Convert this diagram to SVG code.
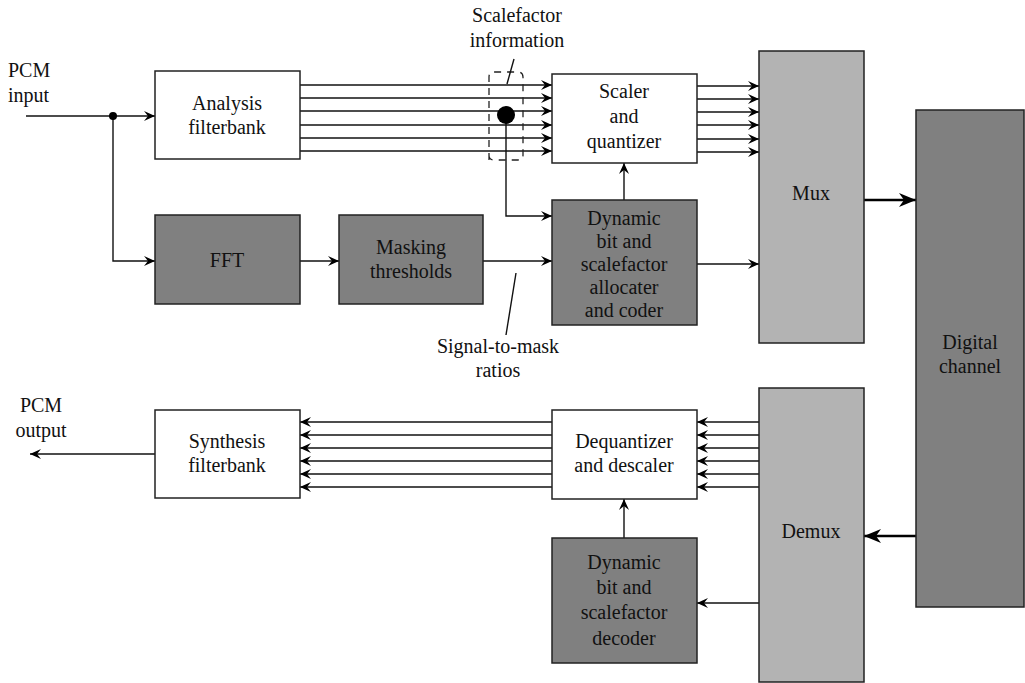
<svg xmlns="http://www.w3.org/2000/svg" width="1025" height="683" viewBox="0 0 1025 683">
<style>
  .box { stroke: #222; stroke-width: 1.5; }
  .white { fill: #fff; }
  .dark { fill: #808080; }
  .light { fill: #b3b3b3; }
  text { font-family: "Liberation Serif", "Times New Roman", serif; font-size: 20px; fill: #111; }
  .c { text-anchor: middle; }
  .ln { stroke: #111; stroke-width: 1.4; fill: none; }
  .arr { marker-end: url(#ah); }
  .thick { stroke: #000; stroke-width: 2.6; fill: none; marker-end: url(#ahb); }
</style>
<defs>
  <marker id="ah" viewBox="-12 -6 13 12" markerWidth="13" markerHeight="12" refX="0" refY="0" orient="auto" markerUnits="userSpaceOnUse">
    <path d="M-11,-5 L0,0 L-11,5 L-7,0 z" fill="#000"/>
  </marker>
  <marker id="ahb" viewBox="-18 -8 19 16" markerWidth="19" markerHeight="16" refX="0" refY="0" orient="auto" markerUnits="userSpaceOnUse">
    <path d="M-17,-7 L0,0 L-17,7 L-12,0 z" fill="#000"/>
  </marker>
</defs>
<rect width="1025" height="683" fill="#fff"/>

<g id="connectors">
  <!-- PCM input -->
  <line class="ln arr" x1="26" y1="116" x2="155" y2="116"/>
  <polyline class="ln arr" points="113,116 113,261 155,261"/>
  <circle cx="113" cy="116" r="4" fill="#000"/>
  <!-- analysis -> scaler -->
  <line class="ln arr" x1="300" y1="85" x2="552" y2="85"/>
  <line class="ln arr" x1="300" y1="98" x2="552" y2="98"/>
  <line class="ln arr" x1="300" y1="111" x2="552" y2="111"/>
  <line class="ln arr" x1="300" y1="125" x2="552" y2="125"/>
  <line class="ln arr" x1="300" y1="138" x2="552" y2="138"/>
  <line class="ln arr" x1="300" y1="151" x2="552" y2="151"/>
  <!-- scalefactor tap -->
  <polyline class="ln arr" points="506,116 506,216 552,216"/>
  <circle cx="506" cy="115" r="9" fill="#000"/>
  <path d="M489,160 L489,77 Q489,72 494,72 L518,72 Q523,72 523,77 L523,155 Q523,160 518,160 L494,160 Q489,160 489,155" fill="none" stroke="#222" stroke-width="1.3" stroke-dasharray="7,6"/>
  <line class="ln" x1="507" y1="84" x2="514" y2="59"/>
  <!-- scaler -> mux -->
  <line class="ln arr" x1="697" y1="86" x2="759" y2="86"/>
  <line class="ln arr" x1="697" y1="99" x2="759" y2="99"/>
  <line class="ln arr" x1="697" y1="112" x2="759" y2="112"/>
  <line class="ln arr" x1="697" y1="125" x2="759" y2="125"/>
  <line class="ln arr" x1="697" y1="139" x2="759" y2="139"/>
  <line class="ln arr" x1="697" y1="152" x2="759" y2="152"/>
  <!-- allocator -> scaler -->
  <line class="ln arr" x1="624" y1="200" x2="624" y2="163"/>
  <!-- FFT -> masking -> allocator -> mux -->
  <line class="ln arr" x1="300" y1="261" x2="339" y2="261"/>
  <line class="ln arr" x1="483" y1="261" x2="552" y2="261"/>
  <line class="ln arr" x1="697" y1="264" x2="759" y2="264"/>
  <line class="ln" x1="516" y1="273" x2="506" y2="335"/>
  <!-- mux -> channel -> demux -->
  <line class="thick" x1="864" y1="200" x2="916" y2="200"/>
  <line class="thick" x1="916" y1="536" x2="864" y2="536"/>
  <!-- demux -> dequantizer -->
  <line class="ln arr" x1="759" y1="422" x2="697" y2="422"/>
  <line class="ln arr" x1="759" y1="435" x2="697" y2="435"/>
  <line class="ln arr" x1="759" y1="448" x2="697" y2="448"/>
  <line class="ln arr" x1="759" y1="461" x2="697" y2="461"/>
  <line class="ln arr" x1="759" y1="474" x2="697" y2="474"/>
  <line class="ln arr" x1="759" y1="487" x2="697" y2="487"/>
  <!-- dequantizer -> synthesis -->
  <line class="ln arr" x1="552" y1="422" x2="300" y2="422"/>
  <line class="ln arr" x1="552" y1="435" x2="300" y2="435"/>
  <line class="ln arr" x1="552" y1="448" x2="300" y2="448"/>
  <line class="ln arr" x1="552" y1="461" x2="300" y2="461"/>
  <line class="ln arr" x1="552" y1="474" x2="300" y2="474"/>
  <line class="ln arr" x1="552" y1="487" x2="300" y2="487"/>
  <!-- demux -> decoder, decoder -> dequantizer -->
  <line class="ln arr" x1="759" y1="603" x2="697" y2="603"/>
  <line class="ln arr" x1="624" y1="538" x2="624" y2="499"/>
  <!-- output -->
  <line class="ln arr" x1="155" y1="454" x2="30" y2="454"/>
</g>

<g id="labels">
  <text x="8" y="77">PCM</text>
  <text x="8" y="102">input</text>
  <text class="c" x="41" y="412">PCM</text>
  <text class="c" x="41" y="437">output</text>
  <text class="c" x="517" y="22">Scalefactor</text>
  <text class="c" x="517" y="47">information</text>
  <text class="c" x="498" y="353">Signal-to-mask</text>
  <text class="c" x="498" y="377">ratios</text>
</g>

<g id="analysis">
  <rect class="box white" x="155" y="71" width="145" height="88"/>
  <text class="c" x="227" y="110">Analysis</text>
  <text class="c" x="227" y="134">filterbank</text>
</g>
<g id="fft">
  <rect class="box dark" x="155" y="215" width="145" height="89"/>
  <text class="c" x="227" y="267">FFT</text>
</g>
<g id="masking">
  <rect class="box dark" x="339" y="215" width="144" height="89"/>
  <text class="c" x="411" y="254">Masking</text>
  <text class="c" x="411" y="278">thresholds</text>
</g>
<g id="scaler">
  <rect class="box white" x="552" y="74" width="145" height="89"/>
  <text class="c" x="624" y="98">Scaler</text>
  <text class="c" x="624" y="123">and</text>
  <text class="c" x="624" y="148">quantizer</text>
</g>
<g id="allocator">
  <rect class="box dark" x="552" y="200" width="145" height="125"/>
  <text class="c" x="624" y="225">Dynamic</text>
  <text class="c" x="624" y="248">bit and</text>
  <text class="c" x="624" y="271">scalefactor</text>
  <text class="c" x="624" y="294">allocater</text>
  <text class="c" x="624" y="317">and coder</text>
</g>
<g id="mux">
  <rect class="box light" x="759" y="51" width="105" height="292"/>
  <text class="c" x="811" y="200">Mux</text>
</g>
<g id="channel">
  <rect class="box dark" x="916" y="110" width="108" height="497"/>
  <text class="c" x="970" y="349">Digital</text>
  <text class="c" x="970" y="373">channel</text>
</g>
<g id="demux">
  <rect class="box light" x="759" y="388" width="105" height="294"/>
  <text class="c" x="811" y="538">Demux</text>
</g>
<g id="synthesis">
  <rect class="box white" x="155" y="410" width="145" height="88"/>
  <text class="c" x="227" y="448">Synthesis</text>
  <text class="c" x="227" y="472">filterbank</text>
</g>
<g id="dequantizer">
  <rect class="box white" x="552" y="410" width="145" height="89"/>
  <text class="c" x="624" y="448">Dequantizer</text>
  <text class="c" x="624" y="472">and descaler</text>
</g>
<g id="decoder">
  <rect class="box dark" x="552" y="538" width="145" height="125"/>
  <text class="c" x="624" y="569">Dynamic</text>
  <text class="c" x="624" y="594">bit and</text>
  <text class="c" x="624" y="619">scalefactor</text>
  <text class="c" x="624" y="645">decoder</text>
</g>
</svg>
